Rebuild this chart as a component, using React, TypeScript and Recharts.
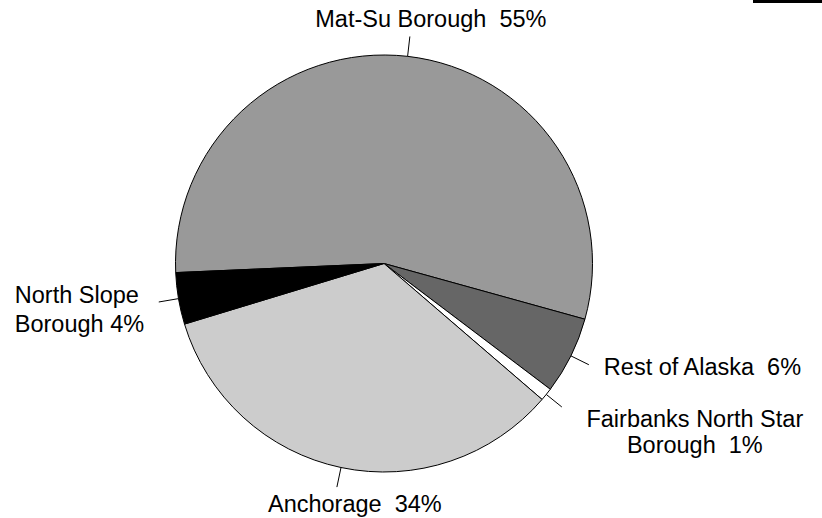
import { Cell, Pie, PieChart } from "recharts";

// share of respondents by area, percent
const areas = ["Mat-Su Borough", "Rest of Alaska", "Fairbanks North Star Borough", "Anchorage", "North Slope Borough"];
const shares = [55, 6, 1, 34, 4];
const fills = ["#999999", "#666666", "#ffffff", "#cccccc", "#000000"];

// how each label is broken into lines, the % goes on the last one
const labelLines = [
  ["Mat-Su Borough"],
  ["Rest of Alaska"],
  ["Fairbanks North Star", "Borough"],
  ["Anchorage"],
  ["North Slope", "Borough"],
];

const data = areas.map((name, i) => ({ name, value: shares[i] }));

const RADIAN = Math.PI / 180;
const LEADER = 20;
const FONT = 23.5;
const LINE_H = 27;

// text placement relative to the end of each leader line
const labelPos: { dx: number; dy: number; anchor: "start" | "middle" | "end"; gap: string; lineH?: number }[] = [
  { dx: 21, dy: -9, anchor: "middle", gap: "  " },
  { dx: 15, dy: 10.5, anchor: "start", gap: "  " },
  { dx: 133, dy: 20, anchor: "middle", gap: "  ", lineH: 26 },
  { dx: 18, dy: 25, anchor: "middle", gap: "  " },
  { dx: -144, dy: 1, anchor: "start", gap: " ", lineH: 29 },
];

type LabelProps = {
  cx: number;
  cy: number;
  midAngle: number;
  outerRadius: number;
  index: number;
};

function SliceLabel({ cx, cy, midAngle, outerRadius, index }: LabelProps) {
  const cos = Math.cos(-midAngle * RADIAN);
  const sin = Math.sin(-midAngle * RADIAN);
  const x1 = cx + outerRadius * cos;
  const y1 = cy + outerRadius * sin;
  const x2 = cx + (outerRadius + LEADER) * cos;
  const y2 = cy + (outerRadius + LEADER) * sin;
  const pos = labelPos[index];
  const lines = labelLines[index].slice();
  lines[lines.length - 1] = `${lines[lines.length - 1]}${pos.gap}${shares[index]}%`;
  const lh = pos.lineH ?? LINE_H;

  return (
    <g>
      <line x1={x1} y1={y1} x2={x2} y2={y2} stroke="#000" strokeWidth={1} />
      <text
        x={x2 + pos.dx}
        y={y2 + pos.dy}
        textAnchor={pos.anchor}
        fontSize={FONT}
        fontFamily="'Liberation Sans', Arial, sans-serif"
        fill="#000"
        style={{ whiteSpace: "pre" }}
      >
        {lines.map((t, i) => (
          <tspan key={i} x={x2 + pos.dx} dy={i === 0 ? 0 : lh}>
            {t}
          </tspan>
        ))}
      </text>
    </g>
  );
}

export default function App() {
  return (
    <div style={{ position: "absolute", left: 0, top: 0, width: 822, height: 518, background: "#fff" }}>
      <div style={{ position: "absolute", left: 753, top: 0, width: 69, height: 3, background: "#000" }} />
      <PieChart width={822} height={518} margin={{ top: 0, right: 0, bottom: 0, left: 0 }}>
        <Pie
          data={data}
          dataKey="value"
          nameKey="name"
          cx={384}
          cy={263.5}
          outerRadius={208.5}
          innerRadius={0}
          startAngle={182.5}
          endAngle={-177.5}
          stroke="#000"
          strokeWidth={1}
          labelLine={false}
          label={(p: any) => <SliceLabel {...p} />}
          isAnimationActive={false}
        >
          {data.map((d, i) => (
            <Cell key={d.name} fill={fills[i]} />
          ))}
        </Pie>
      </PieChart>
    </div>
  );
}
